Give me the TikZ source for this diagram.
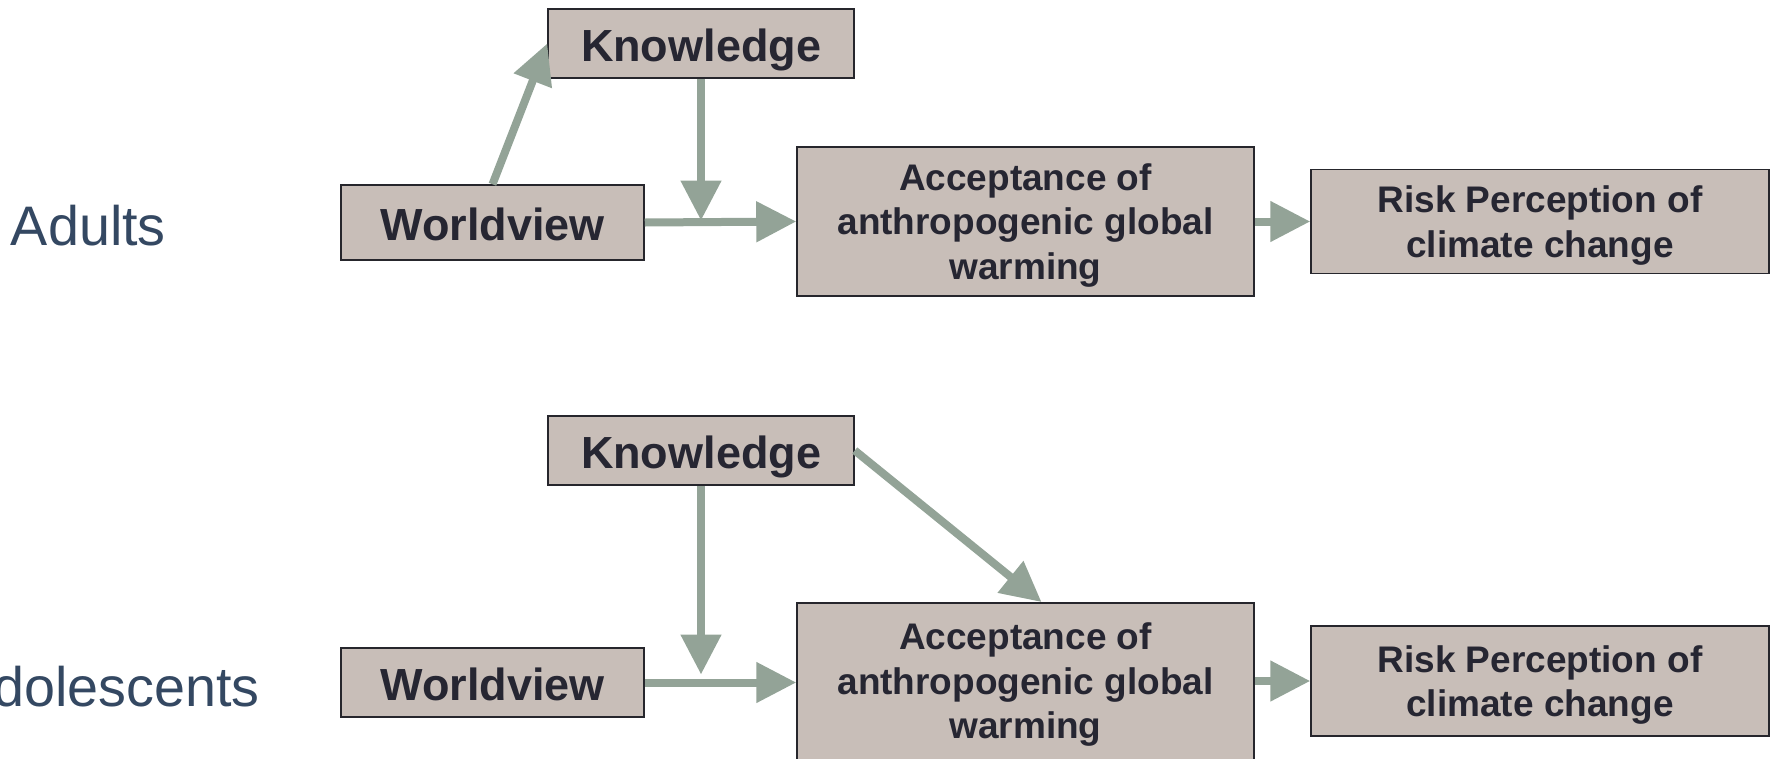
\documentclass[tikz,border=0pt]{standalone}
\usepackage{fontspec}
\setmainfont{Liberation Sans}
\usetikzlibrary{arrows.meta}
\definecolor{boxfill}{RGB}{200,190,184}
\definecolor{boxline}{RGB}{38,38,44}
\definecolor{arrowc}{RGB}{147,163,151}
\definecolor{txt}{RGB}{38,38,50}
\definecolor{lblc}{RGB}{52,72,98}
\begin{document}
\begin{tikzpicture}[x=1pt,y=-1pt,
  box/.style={draw=boxline, line width=1.5pt, fill=boxfill, text=txt, inner sep=0pt, align=center},
  bigtxt/.style={font=\fontsize{45}{53}\selectfont\bfseries, text height=36.5pt, text depth=0pt},
  smalltxt/.style={font=\fontsize{37}{44.5}\selectfont\bfseries, text depth=-1pt},
  grouplbl/.style={text=lblc, inner sep=0pt, font=\fontsize{55.7}{67}\selectfont},
  arr/.style={draw=arrowc, line width=8pt, -{Triangle[length=40pt,width=39pt]}}]
\clip (0,0) rectangle (1771,758);
\useasboundingbox (0,0) rectangle (1771,758);

% ---- Adults ----
\node[grouplbl, anchor=east] (adults) at (166,226) {Adults};
\node[box, bigtxt, minimum width=306pt, minimum height=69pt] (K1) at (701,43.5) {Knowledge};
\node[box, bigtxt, minimum width=303pt, minimum height=75pt] (W1) at (492.5,222.5) {Worldview};
\node[box, smalltxt, minimum width=457pt, minimum height=149pt] (A1) at (1025.5,221.5) {Acceptance of\\anthropogenic global\\warming};
\node[box, smalltxt, minimum width=458pt, minimum height=104pt] (R1) at (1540,221.5) {Risk Perception of\\climate change};

\coordinate (j1) at (K1.south |- W1.east);
\draw[arr] (W1.east) -- (A1.west);
\draw[arr] (K1.south) -- ([yshift=2pt]j1);
\draw[arr] (W1.north) -- (K1.west);
\draw[arr] (A1.east) -- (R1.west);

% ---- Adolescents ----
\node[grouplbl, anchor=east] (adol) at (260,687) {Adolescents};
\node[box, bigtxt, minimum width=306pt, minimum height=69pt] (K2) at (701,450.5) {Knowledge};
\node[box, bigtxt, minimum width=303pt, minimum height=69pt] (W2) at (492.5,682.5) {Worldview};
\node[box, minimum width=457pt, minimum height=180pt, anchor=north] (A2) at (1025.5,602) {};
\node[text=txt, inner sep=0pt, align=center, smalltxt] (A2t) at (1025.5,681) {Acceptance of\\anthropogenic global\\warming};
\node[box, smalltxt, minimum width=458pt, minimum height=110pt] (R2) at (1540,681) {Risk Perception of\\climate change};

\coordinate (j2) at (K2.south |- W2.east);
\draw[arr] (W2.east) -- (A2.north west |- W2.east);
\draw[arr] (K2.south) -- ([yshift=8pt]j2);
\draw[arr] (K2.east) -- ([xshift=16pt]A2.north);
\draw[arr] (A2.north east |- R2.west) -- (R2.west);
\end{tikzpicture}
\end{document}
